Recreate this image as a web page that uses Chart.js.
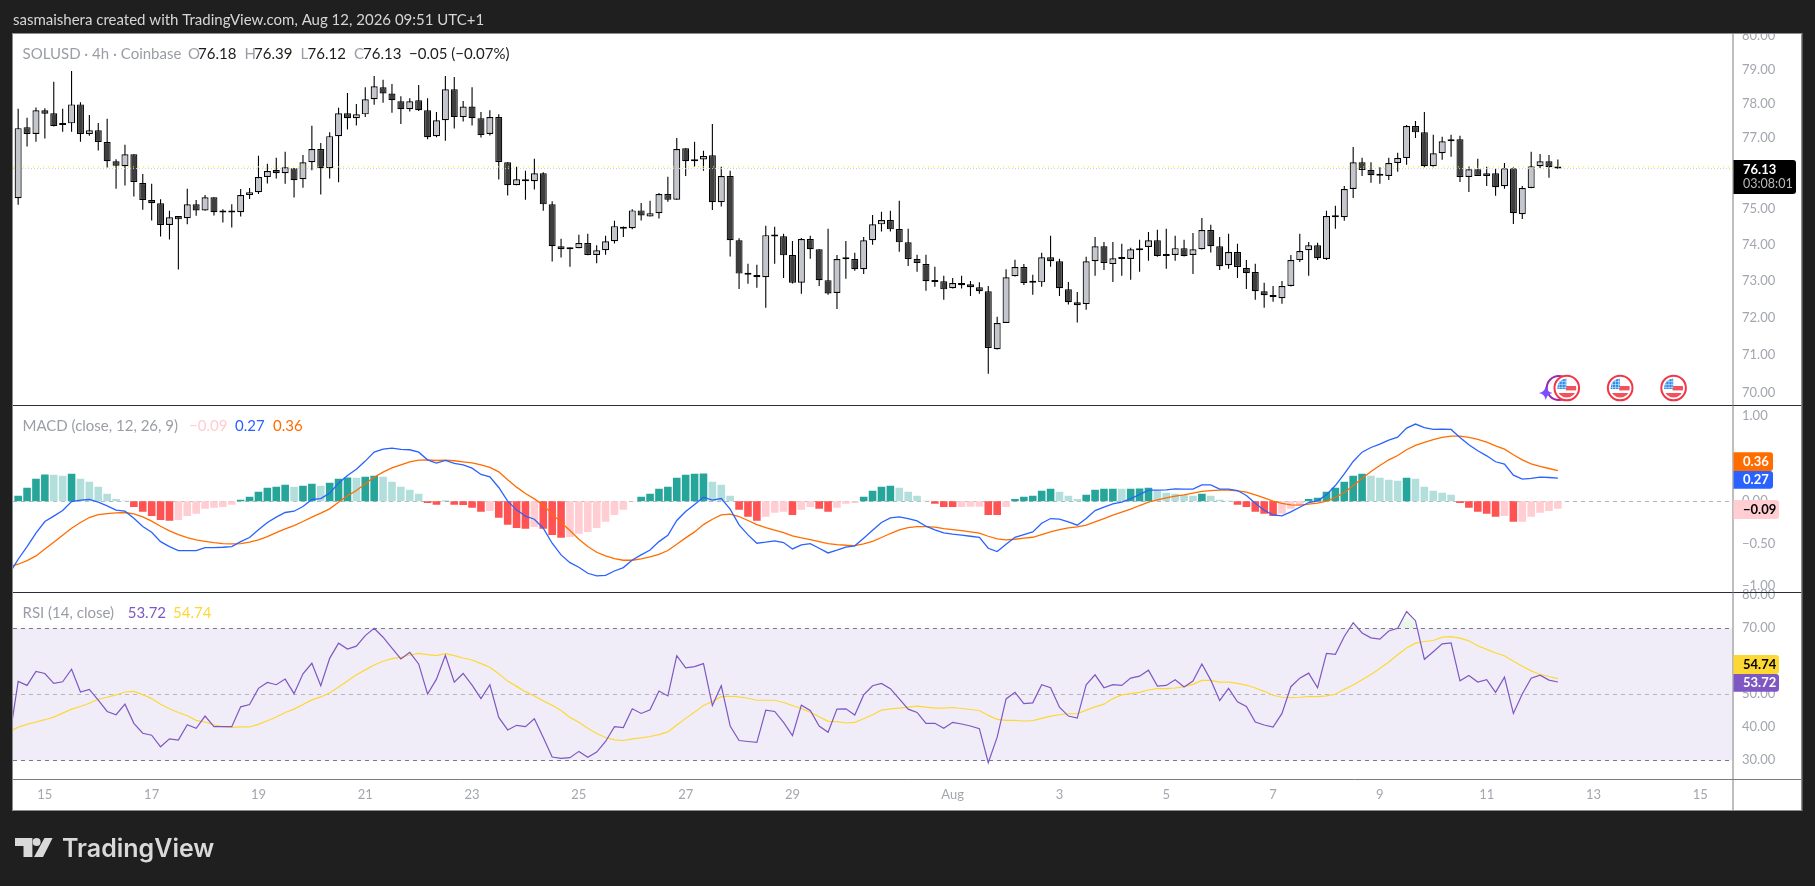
<!DOCTYPE html>
<html><head><meta charset="utf-8"><title>SOLUSD</title>
<style>html,body{margin:0;padding:0;background:#1f1f1f;overflow:hidden}canvas{display:block}</style>
<script src="https://cdn.jsdelivr.net/npm/chart.js@4"></script></head>
<body><canvas id="c" width="1815" height="886"></canvas>
<script>
const opens=[75.29,77.32,77.12,77.81,77.72,77.38,77.43,77.98,77.12,77.23,76.89,76.34,76.20,76.54,75.72,75.24,75.15,74.54,74.79,74.73,75.12,74.95,75.32,74.90,74.90,74.90,75.38,75.46,75.89,76.09,76.00,76.14,75.83,76.31,76.69,76.14,77.06,77.72,77.58,77.69,78.13,78.48,78.30,78.07,77.84,78.10,77.81,77.06,77.52,78.42,77.61,77.92,77.58,77.12,77.61,76.31,75.66,75.80,75.77,76.00,75.12,73.95,73.90,73.90,74.04,73.71,73.84,74.09,74.47,74.45,74.95,74.78,74.87,75.41,75.25,76.71,76.34,76.39,76.51,75.18,75.92,74.12,73.19,73.16,73.10,74.24,74.23,73.71,72.95,74.15,73.87,73.02,72.67,73.61,73.60,73.32,74.12,74.56,74.68,74.43,74.06,73.60,73.46,73.00,72.99,72.80,72.94,72.91,72.83,72.72,71.16,71.86,73.13,73.38,72.96,72.96,73.65,73.54,72.77,72.42,72.37,73.54,73.95,73.46,73.62,73.60,73.84,73.93,74.12,73.71,73.71,73.90,73.71,73.87,74.40,73.95,73.43,73.79,73.35,73.24,72.72,72.61,72.53,72.86,73.57,73.84,73.98,73.60,74.79,74.76,75.55,76.31,76.09,75.95,75.92,76.29,76.43,77.35,77.17,76.20,76.57,76.91,76.97,75.89,76.11,75.92,76.00,75.63,76.14,74.84,75.58,76.20,76.34,76.18];
const closes=[77.29,77.12,77.81,77.71,77.35,77.43,77.98,77.12,77.23,76.89,76.34,76.21,76.54,75.75,75.24,75.15,74.54,74.76,74.70,75.12,74.95,75.32,74.90,74.89,74.89,75.38,75.46,75.89,76.06,76.00,76.17,75.80,76.31,76.69,76.14,77.06,77.72,77.58,77.69,78.13,78.51,78.30,78.10,77.84,78.07,77.81,77.03,77.52,78.42,77.61,77.92,77.58,77.09,77.61,76.32,75.66,75.83,75.77,76.00,75.12,73.95,73.87,73.87,74.04,73.71,73.84,74.09,74.51,74.44,74.95,74.81,74.87,75.41,75.25,76.69,76.34,76.40,76.49,75.18,75.92,74.12,73.20,73.17,73.10,74.26,74.22,73.70,72.95,74.15,73.87,73.02,72.66,73.60,73.59,73.32,74.12,74.56,74.68,74.42,74.06,73.60,73.49,72.99,72.97,72.77,72.94,72.88,72.83,72.72,71.19,71.86,73.10,73.38,72.94,72.95,73.65,73.54,72.80,72.42,72.34,73.54,73.95,73.49,73.62,73.60,73.87,73.90,74.12,73.68,73.68,73.90,73.68,73.87,74.40,73.95,73.40,73.79,73.38,73.21,72.72,72.61,72.56,72.86,73.57,73.82,73.98,73.62,74.79,74.76,75.55,76.31,76.09,75.94,75.93,76.29,76.43,77.35,77.17,76.20,76.57,76.91,76.97,75.89,76.11,75.92,76.00,75.60,76.14,74.87,75.58,76.20,76.34,76.17,76.13];
const highs=[77.85,77.59,77.89,77.87,78.64,77.85,78.96,78.04,77.67,77.44,77.56,76.40,76.81,76.54,75.98,75.70,75.26,74.94,74.79,75.56,75.24,75.38,75.32,74.98,75.12,75.55,75.58,76.50,76.27,76.44,76.61,76.14,76.52,77.36,76.86,77.17,77.88,78.31,77.99,78.48,78.81,78.70,78.58,78.22,78.16,78.55,78.16,77.76,78.81,78.78,78.08,78.48,77.76,77.81,77.69,76.31,76.18,76.07,76.41,76.03,75.21,74.16,73.92,74.27,74.30,73.98,74.24,74.66,74.50,74.98,75.16,75.22,75.44,75.90,77.01,76.71,76.90,76.64,77.41,76.18,76.07,74.17,73.47,73.44,74.52,74.49,74.30,74.10,74.18,74.24,73.87,74.44,73.71,74.10,73.77,74.21,74.82,74.91,74.94,75.22,74.44,73.72,73.72,73.39,73.14,73.08,73.14,73.00,72.96,72.86,72.03,73.32,73.58,73.46,73.17,73.77,74.24,73.61,72.97,72.70,73.66,74.21,74.07,74.07,74.02,73.91,74.13,74.35,74.41,74.44,74.24,74.13,74.32,74.74,74.55,74.21,74.30,74.02,73.57,73.47,72.95,72.86,73.00,73.71,74.30,74.07,74.05,74.94,75.08,75.64,76.75,76.44,76.31,76.17,76.44,76.58,77.38,77.50,77.76,77.10,77.04,77.10,77.07,76.20,76.41,76.18,76.14,76.29,76.17,75.64,76.61,76.55,76.52,76.39];
const lows=[75.11,76.76,76.90,76.99,77.34,77.19,77.19,76.90,77.07,76.65,76.16,75.56,75.65,75.34,74.97,74.67,74.22,74.14,73.31,74.56,74.80,74.94,74.81,74.61,74.47,74.78,75.27,75.41,75.71,75.85,75.70,75.31,75.59,76.08,75.40,75.85,75.74,77.25,77.37,77.61,77.97,78.03,77.74,77.41,77.77,77.79,76.97,77.03,76.93,77.28,77.48,77.37,77.02,77.08,75.82,75.37,75.66,75.25,75.54,74.94,73.53,73.64,73.39,73.90,73.70,73.48,73.72,74.03,74.21,74.42,74.67,74.78,74.72,75.19,75.25,75.92,76.19,76.07,74.96,75.06,73.67,72.78,72.92,72.81,72.27,73.47,73.08,72.93,72.65,73.61,72.86,72.62,72.24,73.06,73.28,73.19,73.99,74.36,74.36,73.80,73.41,73.25,72.73,72.84,72.49,72.79,72.79,72.59,72.65,70.51,71.15,71.86,73.12,72.89,72.62,72.84,73.39,72.59,72.36,71.87,72.22,73.14,73.30,72.97,73.14,73.03,73.25,73.55,73.66,73.33,73.55,73.67,73.19,73.86,73.78,73.30,73.33,73.08,72.78,72.49,72.27,72.43,72.38,72.85,73.52,73.14,73.57,73.57,74.44,74.66,75.30,75.92,75.73,75.70,75.81,76.04,76.24,77.01,76.17,76.17,76.38,76.47,75.75,75.47,75.92,75.64,75.36,75.56,74.57,74.71,75.57,76.15,75.87,76.12];
const macdHist=[.063,.157,.263,.312,.31,.298,.322,.263,.227,.169,.086,.027,.004,-.067,-.125,-.173,-.22,-.231,-.22,-.173,-.149,-.09,-.078,-.067,-.043,.016,.051,.11,.157,.169,.192,.169,.18,.204,.18,.216,.263,.277,.275,.286,.298,.286,.227,.169,.133,.086,-.02,-.043,.004,-.043,-.045,-.078,-.125,-.114,-.196,-.278,-.314,-.325,-.302,-.325,-.396,-.431,-.42,-.384,-.361,-.314,-.243,-.161,-.102,-.004,.051,.086,.145,.169,.275,.31,.322,.324,.227,.192,.063,-.102,-.184,-.231,-.184,-.137,-.125,-.161,-.102,-.067,-.09,-.125,-.078,-.031,-.02,.051,.122,.169,.18,.157,.11,.063,.004,-.031,-.067,-.069,-.067,-.066,-.065,-.161,-.163,-.067,.027,.051,.063,.122,.145,.11,.063,.027,.075,.133,.145,.147,.145,.147,.149,.157,.122,.098,.086,.075,.063,.086,.063,.016,.004,-.043,-.067,-.125,-.149,-.173,-.149,-.09,-.043,.027,.039,.11,.157,.227,.298,.322,.298,.275,.251,.239,.275,.263,.169,.122,.098,.075,-.02,-.078,-.125,-.149,-.184,-.173,-.243,-.241,-.184,-.137,-.114,-.09];
const macdLine=[-.855,-.682,-.533,-.376,-.239,-.176,-.110,-.004,.012,.020,-.012,-.055,-.106,-.118,-.200,-.298,-.365,-.475,-.533,-.580,-.580,-.580,-.545,-.545,-.541,-.533,-.475,-.427,-.337,-.251,-.188,-.133,-.118,-.063,.020,.031,.094,.212,.302,.376,.471,.576,.612,.624,.608,.604,.576,.486,.447,.478,.443,.427,.388,.314,.286,.161,0,-.102,-.176,-.212,-.318,-.494,-.631,-.722,-.776,-.847,-.878,-.871,-.82,-.780,-.690,-.631,-.573,-.475,-.400,-.227,-.122,-.039,.047,.012,.031,-.094,-.278,-.396,-.494,-.482,-.467,-.486,-.561,-.514,-.498,-.553,-.608,-.576,-.541,-.525,-.435,-.341,-.251,-.196,-.184,-.204,-.231,-.294,-.337,-.373,-.388,-.400,-.412,-.424,-.553,-.592,-.506,-.424,-.392,-.361,-.259,-.204,-.212,-.243,-.282,-.204,-.110,-.071,-.031,-.012,.031,.078,.129,.129,.133,.145,.141,.141,.192,.192,.141,.141,.125,.067,-.024,-.106,-.161,-.173,-.125,-.071,-.016,.004,.075,.184,.322,.467,.576,.631,.671,.718,.753,.859,.906,.863,.843,.847,.843,.749,.663,.592,.533,.463,.435,.306,.259,.267,.282,.278,.27];
const macdSignal=[-.769,-.741,-.698,-.643,-.561,-.482,-.400,-.318,-.251,-.192,-.157,-.145,-.137,-.133,-.149,-.184,-.235,-.294,-.349,-.392,-.427,-.455,-.471,-.486,-.498,-.502,-.498,-.482,-.455,-.416,-.369,-.325,-.286,-.239,-.188,-.141,-.090,-.012,.063,.125,.204,.282,.341,.392,.427,.463,.482,.486,.478,.482,.475,.463,.451,.427,.396,.345,.251,.165,.090,.027,-.047,-.149,-.251,-.345,-.447,-.533,-.600,-.643,-.675,-.694,-.694,-.678,-.655,-.624,-.580,-.506,-.431,-.361,-.275,-.212,-.161,-.153,-.180,-.227,-.275,-.310,-.341,-.369,-.408,-.431,-.451,-.475,-.498,-.510,-.518,-.522,-.502,-.471,-.427,-.380,-.337,-.310,-.298,-.298,-.306,-.322,-.333,-.345,-.361,-.376,-.412,-.443,-.455,-.447,-.435,-.424,-.392,-.361,-.333,-.314,-.302,-.282,-.243,-.204,-.165,-.129,-.094,-.051,-.012,.016,.039,.059,.075,.094,.114,.125,.129,.129,.122,.106,.075,.039,0,-.027,-.043,-.047,-.035,-.024,0,.043,.102,.180,.267,.349,.420,.486,.537,.604,.655,.690,.722,.749,.765,.765,.749,.725,.694,.651,.612,.545,.486,.439,.408,.384,.36];
const rsiLine=[36.2,53.9,52.7,56.9,56.3,53.3,53.8,57.6,50.7,51.5,48.2,44.8,43.8,47.0,41.2,38.2,37.6,34.1,36.5,36.1,40.8,39.7,43.4,40.2,40.2,40.2,46.2,46.9,51.8,53.6,52.9,54.6,50.2,56.2,59.4,52.6,60.9,65.5,63.7,64.6,67.8,70.0,67.3,64.0,60.7,62.7,59.2,50.1,54.6,61.8,53.7,56.3,52.8,48.7,52.9,43.0,39.2,40.6,40.2,42.6,36.9,31.0,30.6,30.8,32.7,30.9,32.5,35.7,40.2,39.9,45.6,44.2,45.3,51.0,49.5,61.7,58.0,58.4,59.3,46.6,52.6,40.4,36.0,35.7,35.4,45.2,44.8,41.5,37.5,46.7,45.1,40.4,38.5,45.5,45.6,43.7,49.8,52.6,53.3,51.7,48.6,45.5,44.5,41.2,41.2,39.7,41.5,41.0,40.4,39.6,29.3,37.0,48.6,50.6,47.2,47.4,52.9,52.0,46.1,43.4,42.8,52.9,55.9,52.0,52.9,52.7,54.9,55.5,57.3,52.5,52.7,54.4,52.2,54.0,59.2,54.3,48.1,51.8,47.7,46.3,41.6,40.7,40.1,44.2,52.3,54.9,56.4,52.0,62.4,62.1,67.5,71.7,68.6,67.1,66.7,69.2,70.0,75.1,72.3,60.6,62.9,65.3,65.6,54.1,55.7,53.7,54.4,50.6,55.2,44.2,50.1,54.9,55.8,54.3,53.72];
const rsiMa=[38.7,40.0,40.9,41.6,42.3,43.1,44.3,45.5,46.3,47.3,48.5,49.1,49.8,50.7,50.9,49.9,48.7,47.0,45.6,44.5,43.5,42.1,41.6,40.7,40.2,40.0,40.1,40.1,40.9,42.0,43.1,44.5,45.5,46.9,48.3,49.2,50.4,52.2,54.0,55.9,57.4,58.9,60.0,60.8,61.2,61.9,62.4,62.0,61.7,62.3,61.7,61.0,60.4,59.3,58.2,56.2,54.0,52.4,50.8,49.5,48.0,46.7,45.1,43.0,41.5,39.7,38.1,36.9,36.2,36.0,36.5,36.8,37.2,37.8,38.6,40.7,42.7,44.6,46.6,47.8,49.3,49.4,49.2,48.8,48.2,48.2,48.2,47.5,46.6,45.7,44.6,43.2,41.8,41.7,41.3,41.5,42.6,43.8,45.2,45.6,45.8,46.1,46.4,46.1,45.8,45.8,46.0,45.7,45.4,45.1,43.6,42.4,42.1,42.1,41.9,42.0,42.7,43.4,43.8,44.1,44.1,45.2,46.2,47.0,48.7,49.8,50.2,50.6,51.3,51.7,51.7,51.9,52.3,53.0,54.2,54.2,53.7,53.7,53.3,52.8,51.9,50.9,49.7,49.1,49.0,49.1,49.3,49.3,49.5,50.0,51.5,52.8,54.4,56.0,57.8,59.8,62.0,64.0,65.5,66.0,66.3,67.3,67.5,67.0,66.2,64.7,63.6,62.5,61.7,60.0,58.5,57.1,56.0,55.4,54.74];
const dateTickIndex=[3,15,27,39,51,63,75,87,105,117,129,141,153,165,177,189];
const dateTickLabels=['15','17','19','21','23','25','27','29','Aug','3','5','7','9','11','13','15'];
const priceTicks=[70,71,72,73,74,75,76,77,78,79,80];
const macdTicks=[-1,-0.5,0,0.5,1];
const rsiTicks=[30,40,50,70,80];
const rsiBands=[70,50,30];
const eventIndex=[174,180,186];
const lastOpen=76.18, lastClose=76.13;

const FONT='Lato, "Open Sans", sans-serif';
const TICK='#a3a6af';
const L=13,T=34,R=1801.5,B=810,AX=1732.5,P1=405,P2=592,P3=779;
const xMin=-0.58,xMax=192.62;
const idx=opens.map((_,i)=>i);
const isUp=idx.map(i=>closes[i]>=opens[i]);
const minus=s=>s.replace('-','\u2212');

const histColors=macdHist.map((v,i)=>{
  const p=i?macdHist[i-1]:0;
  return v>=0?(v>p?'#26a69a':'#b2dfdb'):(v<p?'#ff5252':'#ffcdd2');
});

function text(ctx,s,x,y,color,font){ctx.font=font;ctx.fillStyle=color;ctx.textAlign='left';ctx.textBaseline='middle';ctx.fillText(s,x,y);}
function tag(ctx,x1,y1,x2,y2,fill,round){ctx.fillStyle=fill;ctx.beginPath();ctx.roundRect(x1,y1,x2-x1,y2-y1,round?[0,3,3,0]:0);ctx.fill();}

function drawFlag(ctx,cx,cy){
  ctx.save();
  ctx.beginPath();ctx.arc(cx,cy,12.3,0,7);ctx.fillStyle='#fff';ctx.fill();
  ctx.lineWidth=2;ctx.strokeStyle='#f23645';ctx.stroke();
  ctx.beginPath();ctx.arc(cx,cy,9.6,0,7);ctx.clip();
  ctx.fillStyle='#fff';ctx.fillRect(cx-11,cy-11,22,22);
  ctx.fillStyle='#f0525e';ctx.fillRect(cx-1,cy-2,11,4.4);ctx.fillRect(cx-11,cy+5,22,6);
  ctx.fillStyle='#2f8fe8';ctx.fillRect(cx-11,cy-11,10.6,12);
  ctx.fillStyle='rgba(255,255,255,.55)';
  for(let i=0;i<3;i++){ctx.fillRect(cx-8+i*3,cy-10,.8,11);ctx.fillRect(cx-10,cy-7+i*3,10,.8);}
  ctx.restore();
}

const paintPlugin={
  id:'paint',
  beforeDraw(chart){
    const c=chart.ctx;
    c.save();
    c.fillStyle='#1f1f1f';c.fillRect(0,0,1815,886);
    c.fillStyle='#ffffff';c.fillRect(L,T,R-L,B-T);
    c.restore();
  },
  beforeDatasetsDraw(chart){
    const c=chart.ctx,ry=chart.scales.yRsi,my=chart.scales.yMacd,xs=chart.scales.x;
    c.save();
    c.fillStyle='rgba(126,87,194,0.11)';
    const y70=ry.getPixelForValue(rsiBands[0]),y30=ry.getPixelForValue(rsiBands[2]);
    c.fillRect(L,y70,AX-L,y30-y70);
    // overbought fill between the RSI line and the 70 level
    c.save();
    c.beginPath();c.rect(L,P2,AX-L,y70-P2);c.clip();
    c.beginPath();c.moveTo(xs.getPixelForValue(-1),y70);
    rsiLine.forEach((v,i)=>c.lineTo(xs.getPixelForValue(i-1),ry.getPixelForValue(v)));
    c.lineTo(xs.getPixelForValue(rsiLine.length-2),y70);c.closePath();
    const g=c.createLinearGradient(0,y70-16,0,y70);
    g.addColorStop(0,'rgba(76,175,80,.05)');g.addColorStop(1,'rgba(76,175,80,.14)');
    c.fillStyle=g;c.fill();
    c.restore();
    c.setLineDash([4,4]);c.lineWidth=1;
    rsiBands.forEach((v,k)=>{
      c.strokeStyle=k===1?'#b5b5bd':'#787b86';
      const y=Math.round(ry.getPixelForValue(v))+.5;
      c.beginPath();c.moveTo(L,y);c.lineTo(AX,y);c.stroke();
    });
    c.strokeStyle='#b5b5bd';
    const y0=Math.round(my.getPixelForValue(0))+.5;
    c.beginPath();c.moveTo(L,y0);c.lineTo(AX,y0);c.stroke();
    c.restore();
  },
  afterDraw(chart){
    const c=chart.ctx,xs=chart.scales.x;
    c.save();
    // masks so that axis labels are cut at the frame
    c.fillStyle='#1f1f1f';c.fillRect(0,0,1815,T);
    // purple arc + star behind the first event
    const ex0=xs.getPixelForValue(eventIndex[0]);
    c.strokeStyle='#9c27b0';c.lineWidth=2;c.beginPath();c.arc(ex0-8,388,12,0,7);c.stroke();
    eventIndex.forEach(i=>drawFlag(c,xs.getPixelForValue(i),388));
    c.fillStyle='#7c4dff';c.beginPath();
    const sx=ex0-21,sy=393;
    c.moveTo(sx,sy-7);c.quadraticCurveTo(sx+1,sy-1,sx+7,sy);c.quadraticCurveTo(sx+1,sy+1,sx,sy+7);c.quadraticCurveTo(sx-1,sy+1,sx-7,sy);c.quadraticCurveTo(sx-1,sy-1,sx,sy-7);c.fill();
    // frame and pane lines
    c.strokeStyle='#2a2e39';c.lineWidth=1.2;
    [P1,P2].forEach(y=>{c.beginPath();c.moveTo(L,y+.5);c.lineTo(R,y+.5);c.stroke();});
    c.strokeStyle='#7d7d7d';c.lineWidth=1;
    c.beginPath();c.moveTo(L,P3+.5);c.lineTo(R,P3+.5);c.moveTo(AX+.5,T);c.lineTo(AX+.5,B);c.stroke();
    c.strokeStyle='#8c8c8c';c.strokeRect(L-.5,T-.5,R-L+1,B-T+1);
    // header
    const F15=`15px ${FONT}`;
    text(c,'sasmaishera created with TradingView.com, Aug 12, 2026 09:51 UTC+1',13,20,'#d6d6d6',F15);
    // OHLC legend
    const G='#9a9da6',K='#1c1c1c';
    text(c,'SOLUSD \u00b7 4h \u00b7 Coinbase',22.5,54,G,F15);
    [['O',188,G],['76.18',198,K],['H',244.4,G],['76.39',254,K],['L',300.5,G],['76.12',307.6,K],['C',354,G],['76.13',363,K],['\u22120.05 (\u22120.07%)',409,K]].forEach(a=>text(c,a[0],a[1],54,a[2],F15));
    // MACD legend
    text(c,'MACD (close, 12, 26, 9)',22.5,425.7,G,F15);
    text(c,'\u22120.09',189,425.7,'#ffcdd2',F15);text(c,'0.27',235,425.7,'#2962ff',F15);text(c,'0.36',273,425.7,'#ff6d00',F15);
    // RSI legend
    text(c,'RSI (14, close)',22.5,612.7,G,F15);
    text(c,'53.72',127.7,612.7,'#7e57c2',F15);text(c,'54.74',173,612.7,'#fdd835',F15);
    // axis tags
    const TF=`bold 13px ${FONT}`;
    tag(c,AX+1,160,1796,194,'#000',true);
    text(c,closes[closes.length-1].toFixed(2),1743,169.7,'#fff',TF);
    text(c,'03:08:01',1743,184.3,'#b9b9b9',`12.5px ${FONT}`);
    tag(c,AX+1,452.3,1773,471,'#ff6d00',true);text(c,'0.36',1743,461.5,'#fff',TF);
    tag(c,AX+1,471,1773,488.7,'#2962ff',true);text(c,'0.27',1743,480,'#fff',TF);
    tag(c,AX+1,500,1779,519,'#ffcdd2',true);text(c,'\u22120.09',1743,509.5,'#000',TF);
    tag(c,AX+1,655,1779,674,'#fdd835',true);text(c,'54.74',1743,664.5,'#000',TF);
    tag(c,AX+1,674,1779,691.7,'#7e57c2',true);text(c,'53.72',1743,683,'#fff',TF);
    // logo
    c.fillStyle='#d9d9d9';
    c.fillRect(15,838,17.4,8);c.fillRect(23.5,846,8.9,11);
    c.beginPath();c.arc(36.6,842,4,0,7);c.fill();
    c.beginPath();c.moveTo(44.5,838);c.lineTo(52.6,838);c.lineTo(43,857);c.lineTo(34,857);c.fill();
    text(c,'TradingView',62,849,'#d9d9d9',`600 25px Inter, ${FONT}`);
    c.restore();
  }
};

function setTicks(list){return s=>{s.ticks=list.map(v=>({value:v}));};}
function yScale(min,max,w,list,extra){
  return Object.assign({type:'linear',position:'right',stack:'panes',stackWeight:w,min,max,
    grid:{display:false,drawTicks:false},border:{display:false},
    afterBuildTicks:setTicks(list),afterFit:s=>{s.width=1815-13.5-AX;},
    ticks:{color:TICK,padding:9.5,autoSkip:false,font:{family:FONT,size:13},callback:v=>minus(Number(v).toFixed(2))}},extra||{});
}

new Chart(document.getElementById('c'),{
  type:'bar',
  plugins:[paintPlugin],
  data:{datasets:[
    {type:'line',label:'last open',yAxisID:'yPrice',order:1,data:[{x:xMin,y:lastOpen},{x:xMax,y:lastOpen}],borderColor:'#f5e800',borderWidth:1,borderDash:[1,4],pointRadius:0},
    {type:'line',label:'last close',yAxisID:'yPrice',order:1,data:[{x:xMin,y:lastClose},{x:xMax,y:lastClose}],borderColor:'#cfc8dc',borderWidth:1,borderDash:[1,2],pointRadius:0},
    {label:'body',yAxisID:'yPrice',order:4,data:idx.map(i=>({x:i,y:[opens[i],closes[i]]})),barThickness:7,minBarLength:2,backgroundColor:isUp.map(u=>u?'#c3c6cc':'#3e3e3e'),borderColor:'#000',borderWidth:1.2,borderSkipped:false,inflateAmount:0,grouped:false},
    {label:'wick',yAxisID:'yPrice',order:5,data:idx.map(i=>({x:i,y:[lows[i],highs[i]]})),barThickness:1.1,backgroundColor:'#000',borderWidth:0,inflateAmount:0,grouped:false},
    {label:'hist',yAxisID:'yMacd',order:6,data:idx.map(i=>({x:i,y:macdHist[i]})),barThickness:7.6,backgroundColor:histColors,borderWidth:0,inflateAmount:0,grouped:false},
    {type:'line',label:'macd',yAxisID:'yMacd',order:2,data:macdLine.map((v,i)=>({x:i-1,y:v})),borderColor:'#2962ff',borderWidth:1.3,pointRadius:0,tension:0},
    {type:'line',label:'signal',yAxisID:'yMacd',order:3,data:macdSignal.map((v,i)=>({x:i-1,y:v})),borderColor:'#ff6d00',borderWidth:1.3,pointRadius:0,tension:0},
    {type:'line',label:'rsi',yAxisID:'yRsi',order:2,data:rsiLine.map((v,i)=>({x:i-1,y:v})),borderColor:'#7e57c2',borderWidth:1.2,pointRadius:0,tension:0},
    {type:'line',label:'rsi ma',yAxisID:'yRsi',order:3,data:rsiMa.map((v,i)=>({x:i-1,y:v})),borderColor:'#fdd835',borderWidth:1.2,pointRadius:0,tension:0}
  ]},
  options:{
    responsive:false,animation:false,devicePixelRatio:1,
    layout:{padding:{left:L,top:T,right:13.5,bottom:886-B}},
    plugins:{legend:{display:false},tooltip:{enabled:false}},
    scales:{
      x:{type:'linear',offset:false,min:xMin,max:xMax,grid:{display:false,drawTicks:false,offset:false},border:{display:false},
        afterBuildTicks:setTicks(dateTickIndex),afterFit:s=>{s.height=B-P3;},
        ticks:{color:TICK,padding:8,autoSkip:false,maxRotation:0,font:{family:FONT,size:13},callback:v=>dateTickLabels[dateTickIndex.indexOf(v)]}},
      yPrice:yScale(69.69,80.06,371,priceTicks,{type:'logarithmic'}),
      yMacd:yScale(-1.067,1.13,187,macdTicks),
      yRsi:yScale(24.33,81,187,rsiTicks)
    }
  }
});
</script></body></html>
